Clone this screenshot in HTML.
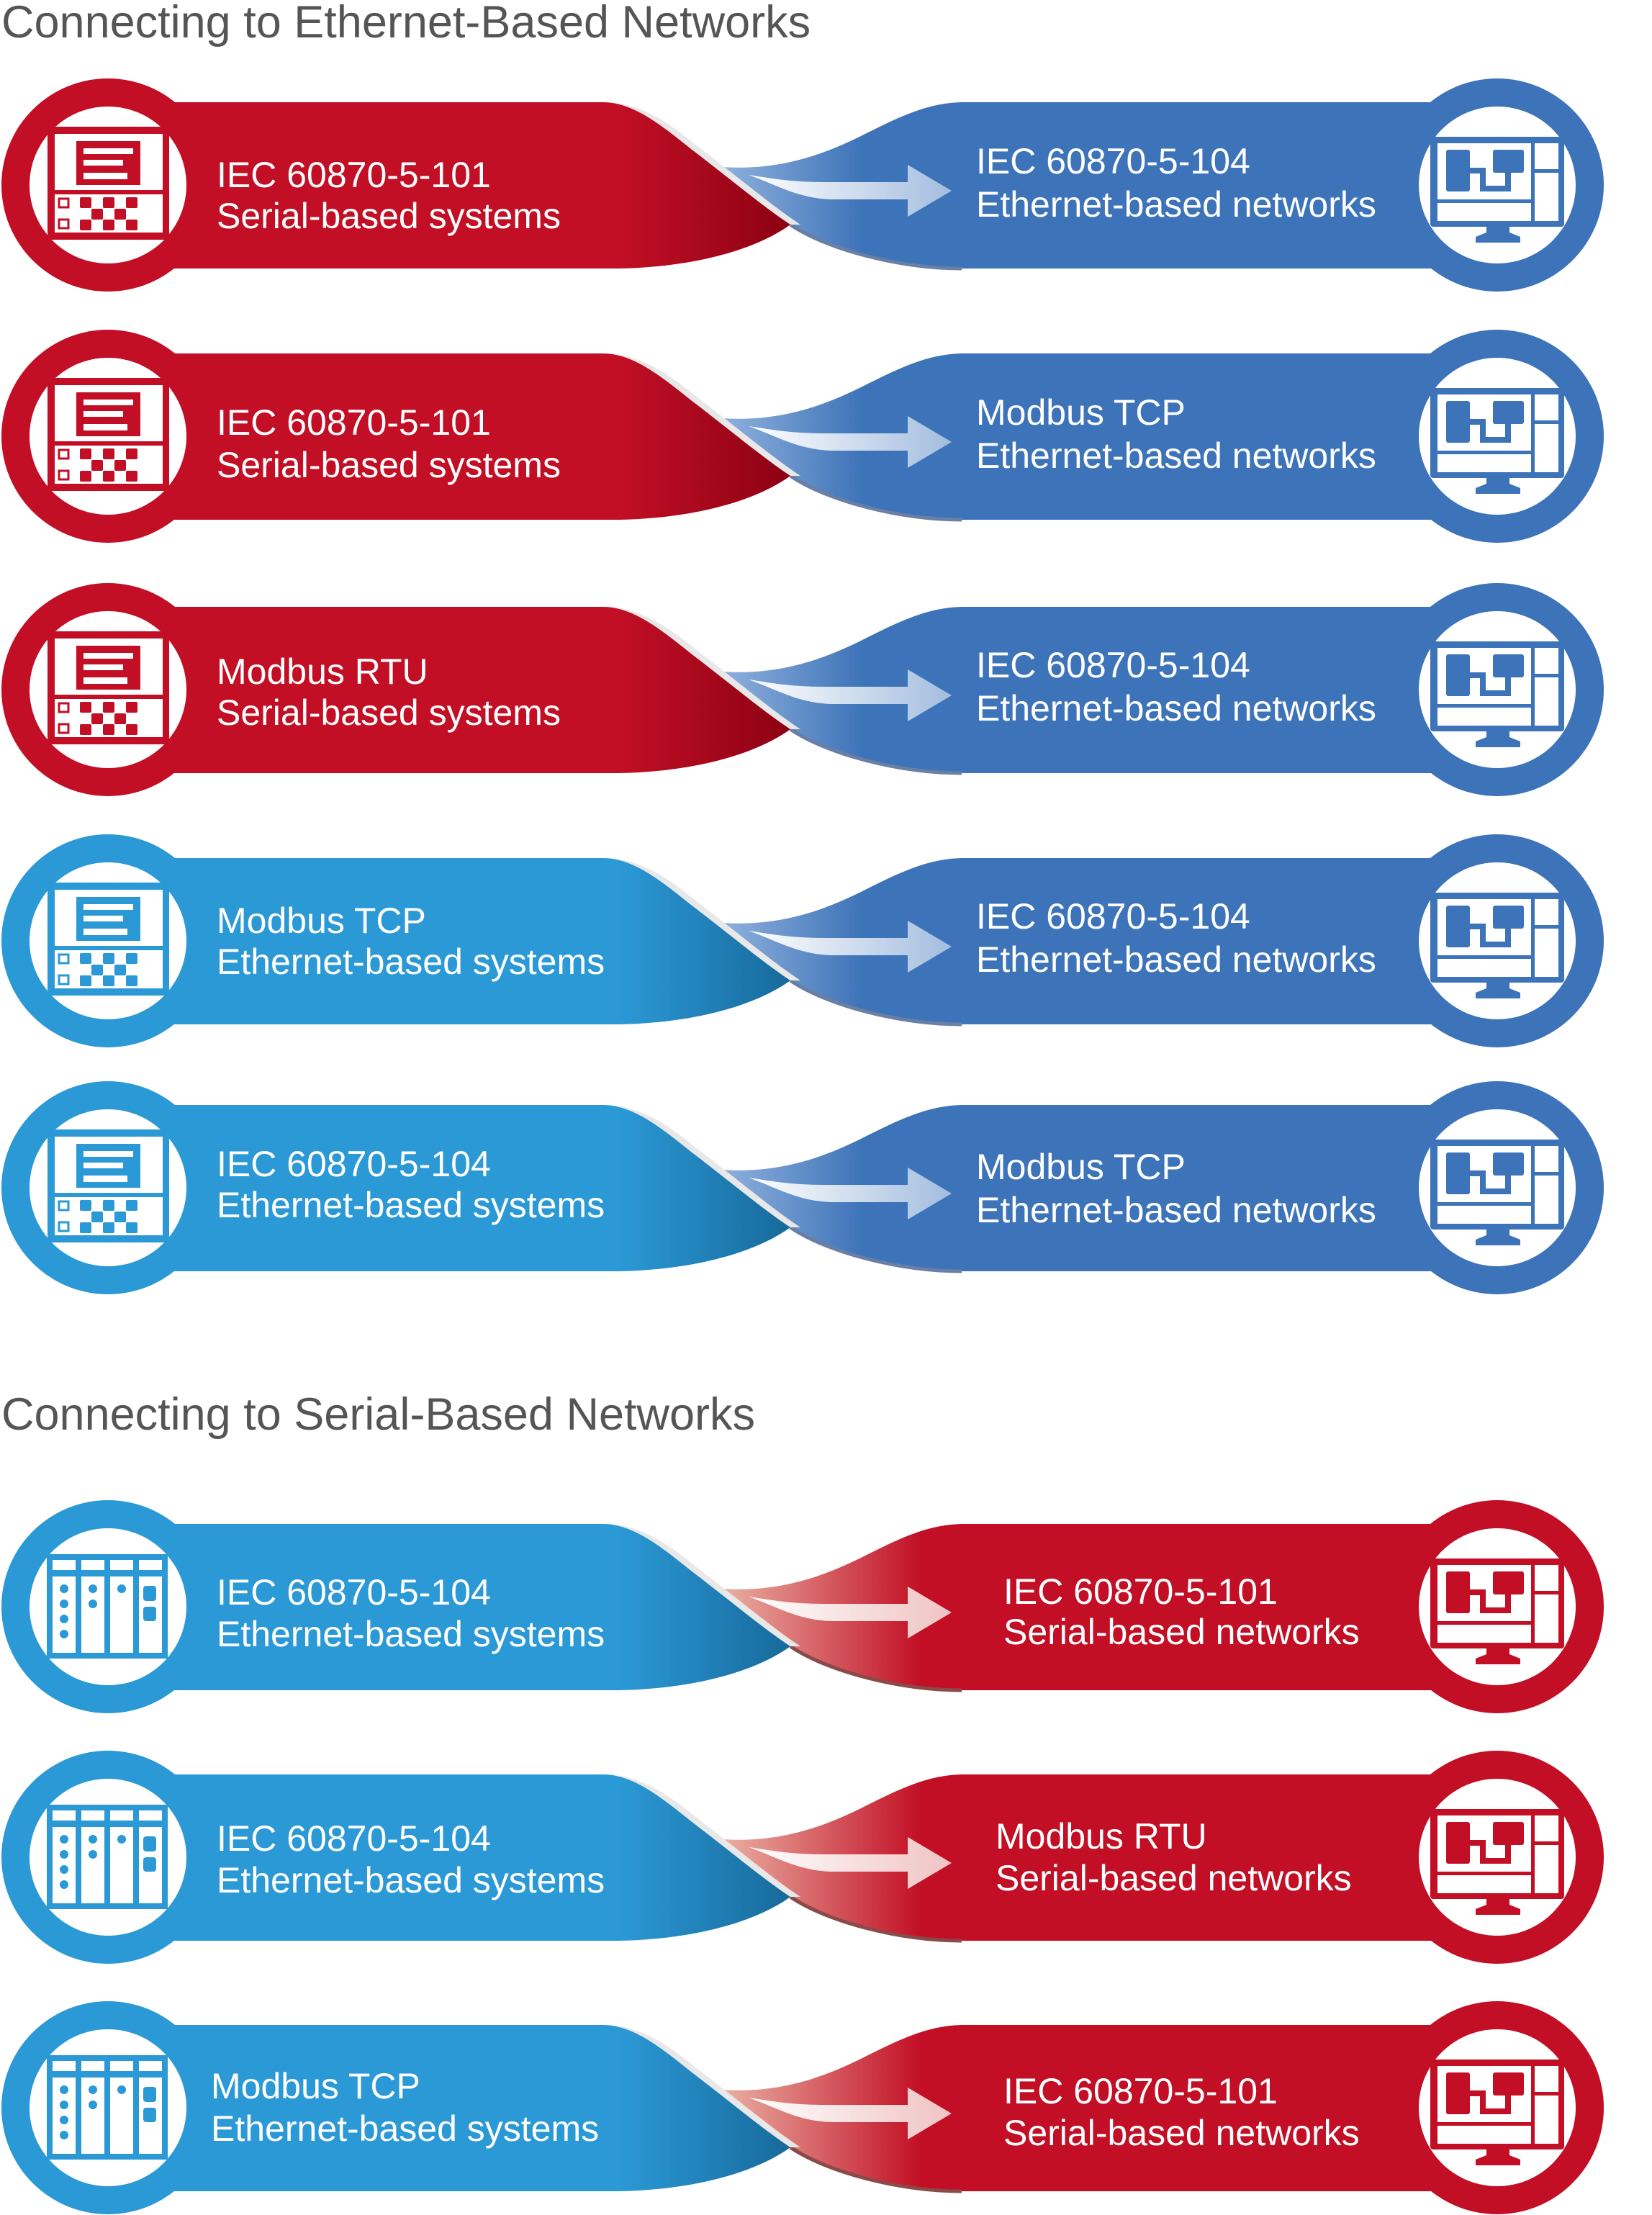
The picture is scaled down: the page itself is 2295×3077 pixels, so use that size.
<!DOCTYPE html>
<html><head><meta charset="utf-8"><style>
html,body{margin:0;padding:0;background:#fff;}
svg{display:block;}
text{font-family:"Liberation Sans",Arial,sans-serif;}
.t{fill:#fff;font-size:50px;}
.h{fill:#555;font-size:63px;}
</style></head><body>
<svg width="2295" height="3077" viewBox="0 0 2295 3077" xmlns="http://www.w3.org/2000/svg">
<defs>
<linearGradient id="gRedL" gradientUnits="userSpaceOnUse" x1="860" y1="0" x2="1100" y2="0"><stop offset="0" stop-color="#c20f25"/><stop offset="1" stop-color="#8c0013"/></linearGradient>
<linearGradient id="gLbL" gradientUnits="userSpaceOnUse" x1="860" y1="0" x2="1100" y2="0"><stop offset="0" stop-color="#2b99d6"/><stop offset="1" stop-color="#17699a"/></linearGradient>
<linearGradient id="gBlR" gradientUnits="userSpaceOnUse" x1="1003" y1="0" x2="1200" y2="0"><stop offset="0" stop-color="#8fb0dd"/><stop offset="1" stop-color="#3d73b8"/></linearGradient>
<linearGradient id="gRdR" gradientUnits="userSpaceOnUse" x1="1003" y1="0" x2="1280" y2="0"><stop offset="0" stop-color="#eab0a3"/><stop offset="1" stop-color="#c20f25"/></linearGradient>
<linearGradient id="gArB" gradientUnits="userSpaceOnUse" x1="1040" y1="0" x2="1322" y2="0"><stop offset="0" stop-color="#ffffff"/><stop offset="1" stop-color="#a3bddf"/></linearGradient>
<linearGradient id="gArR" gradientUnits="userSpaceOnUse" x1="1040" y1="0" x2="1322" y2="0"><stop offset="0" stop-color="#ffffff"/><stop offset="1" stop-color="#f0c3c3"/></linearGradient>
<path id="pL" d="M150,-115 L838,-115 C880,-115 920,-82 960,-50 C1010,-12 1060,30 1098,55 C1050,90 960,116 850,116 L150,116 Z"/>
<path id="pS" d="M838,-115 C894,-115 934,-82 974,-50 C1024,-12 1074,30 1112,55 L1098,55 C1060,30 1010,-12 960,-50 C920,-82 880,-115 838,-115 Z" fill="#e8e8e8"/>
<path id="pR" d="M1003,-25 C1080,-20 1140,-40 1200,-70 C1250,-95 1290,-115 1340,-115 L2080,-115 L2080,116 L1336,116 C1250,116 1150,90 1098,55 C1060,30 1030,0 1003,-25 Z"/>
<path id="pE" d="M1098,55 C1150,90 1250,116 1336,116" fill="none" stroke-width="5"/>
<path id="pA" d="M1040,-14 C1080,-8 1100,-4 1150,-4 L1261,-4 L1261,-28 L1322,8 L1261,44 L1261,20 L1160,20 C1110,20 1080,0 1040,-14 Z"/>
<g id="iPanel">
<rect x="66" y="-81" width="169" height="157"/>
<rect x="76" y="-71" width="150" height="78" fill="#fff"/>
<rect x="106" y="-61" width="89" height="61"/>
<rect x="116" y="-51" width="69" height="8" fill="#fff"/>
<rect x="116" y="-35" width="55" height="8" fill="#fff"/>
<rect x="116" y="-17" width="61" height="9" fill="#fff"/>
<rect x="76" y="13" width="150" height="53" fill="#fff"/>
<rect x="111" y="17" width="16" height="15" rx="2"/><rect x="143" y="17" width="16" height="15" rx="2"/><rect x="175" y="17" width="16" height="15" rx="2"/>
<rect x="127" y="33" width="16" height="15" rx="2"/><rect x="159" y="33" width="16" height="15" rx="2"/>
<rect x="111" y="48" width="16" height="15" rx="2"/><rect x="143" y="48" width="16" height="15" rx="2"/><rect x="175" y="48" width="16" height="15" rx="2"/>
<rect x="82" y="19" width="13" height="12" fill="#fff" stroke-width="3" stroke="currentColor"/>
<rect x="82" y="48" width="13" height="12" fill="#fff" stroke-width="3" stroke="currentColor"/>
</g>
<g id="iRack">
<rect x="65" y="-73" width="168" height="145"/>
<rect x="73" y="-65" width="32" height="14" fill="#fff"/><rect x="113" y="-65" width="32" height="14" fill="#fff"/><rect x="153" y="-65" width="32" height="14" fill="#fff"/><rect x="193" y="-65" width="32" height="14" fill="#fff"/>
<rect x="73" y="-42" width="32" height="106" fill="#fff"/><rect x="113" y="-42" width="32" height="106" fill="#fff"/><rect x="153" y="-42" width="32" height="106" fill="#fff"/><rect x="193" y="-42" width="32" height="106" fill="#fff"/>
<circle cx="89" cy="-25" r="6"/><circle cx="89" cy="-4" r="6"/><circle cx="89" cy="17" r="6"/><circle cx="89" cy="38" r="6"/>
<circle cx="129" cy="-25" r="6"/><circle cx="129" cy="-4" r="6"/><circle cx="169" cy="-25" r="6"/>
<rect x="199" y="-29" width="18" height="21" rx="4"/><rect x="199" y="0" width="18" height="20" rx="4"/>
</g>
<g id="iMon">
<rect x="1987" y="-67" width="186" height="125" rx="4"/>
<rect x="1997" y="-58" width="130" height="78" fill="#fff"/>
<rect x="1997" y="25" width="130" height="25" fill="#fff"/>
<rect x="2132" y="-58" width="33" height="36" fill="#fff"/>
<rect x="2132" y="-17" width="33" height="67" fill="#fff"/>
<rect x="2009" y="-49" width="33" height="58" rx="3"/>
<rect x="2074" y="-49" width="43" height="32" rx="3"/>
<polyline points="2040,-20 2060,-20 2060,5 2095,5 2095,-19" fill="none" stroke="currentColor" stroke-width="8"/>
<rect x="2065" y="58" width="32" height="12"/>
<polygon points="2050,72 2065,66 2097,66 2112,72 2112,80 2050,80"/>
</g>
</defs>

<text class="h" x="2" y="52">Connecting to Ethernet-Based Networks</text>
<text class="h" x="2" y="1986">Connecting to Serial-Based Networks</text>

<g transform="translate(0,257)">
<use href="#pR" fill="url(#gBlR)"/><use href="#pE" stroke="#6a7fa5"/>
<use href="#pS"/><use href="#pL" fill="url(#gRedL)"/>
<use href="#pA" fill="url(#gArB)"/>
<circle cx="150" cy="0" r="148" fill="#c20f25"/><circle cx="150" cy="0" r="109" fill="#fff"/>
<g fill="#c20f25" color="#c20f25"><use href="#iPanel"/></g>
<circle cx="2080" cy="0" r="148" fill="#3d73b8"/><circle cx="2080" cy="0" r="109" fill="#fff"/>
<g fill="#3d73b8" color="#3d73b8"><use href="#iMon"/></g>
<text class="t" x="301" y="3">IEC 60870-5-101</text><text class="t" x="301" y="60">Serial-based systems</text>
<text class="t" x="1356" y="-16">IEC 60870-5-104</text><text class="t" x="1356" y="44">Ethernet-based networks</text>
</g>

<g transform="translate(0,606)">
<use href="#pR" fill="url(#gBlR)"/><use href="#pE" stroke="#6a7fa5"/>
<use href="#pS"/><use href="#pL" fill="url(#gRedL)"/>
<use href="#pA" fill="url(#gArB)"/>
<circle cx="150" cy="0" r="148" fill="#c20f25"/><circle cx="150" cy="0" r="109" fill="#fff"/>
<g fill="#c20f25" color="#c20f25"><use href="#iPanel"/></g>
<circle cx="2080" cy="0" r="148" fill="#3d73b8"/><circle cx="2080" cy="0" r="109" fill="#fff"/>
<g fill="#3d73b8" color="#3d73b8"><use href="#iMon"/></g>
<text class="t" x="301" y="-2">IEC 60870-5-101</text><text class="t" x="301" y="57">Serial-based systems</text>
<text class="t" x="1356" y="-16">Modbus TCP</text><text class="t" x="1356" y="44">Ethernet-based networks</text>
</g>

<g transform="translate(0,958)">
<use href="#pR" fill="url(#gBlR)"/><use href="#pE" stroke="#6a7fa5"/>
<use href="#pS"/><use href="#pL" fill="url(#gRedL)"/>
<use href="#pA" fill="url(#gArB)"/>
<circle cx="150" cy="0" r="148" fill="#c20f25"/><circle cx="150" cy="0" r="109" fill="#fff"/>
<g fill="#c20f25" color="#c20f25"><use href="#iPanel"/></g>
<circle cx="2080" cy="0" r="148" fill="#3d73b8"/><circle cx="2080" cy="0" r="109" fill="#fff"/>
<g fill="#3d73b8" color="#3d73b8"><use href="#iMon"/></g>
<text class="t" x="301" y="-8">Modbus RTU</text><text class="t" x="301" y="49">Serial-based systems</text>
<text class="t" x="1356" y="-17">IEC 60870-5-104</text><text class="t" x="1356" y="43">Ethernet-based networks</text>
</g>

<g transform="translate(0,1307)">
<use href="#pR" fill="url(#gBlR)"/><use href="#pE" stroke="#6a7fa5"/>
<use href="#pS"/><use href="#pL" fill="url(#gLbL)"/>
<use href="#pA" fill="url(#gArB)"/>
<circle cx="150" cy="0" r="148" fill="#2b99d6"/><circle cx="150" cy="0" r="109" fill="#fff"/>
<g fill="#2b99d6" color="#2b99d6"><use href="#iPanel"/></g>
<circle cx="2080" cy="0" r="148" fill="#3d73b8"/><circle cx="2080" cy="0" r="109" fill="#fff"/>
<g fill="#3d73b8" color="#3d73b8"><use href="#iMon"/></g>
<text class="t" x="301" y="-11">Modbus TCP</text><text class="t" x="301" y="46">Ethernet-based systems</text>
<text class="t" x="1356" y="-17">IEC 60870-5-104</text><text class="t" x="1356" y="43">Ethernet-based networks</text>
</g>

<g transform="translate(0,1650)">
<use href="#pR" fill="url(#gBlR)"/><use href="#pE" stroke="#6a7fa5"/>
<use href="#pS"/><use href="#pL" fill="url(#gLbL)"/>
<use href="#pA" fill="url(#gArB)"/>
<circle cx="150" cy="0" r="148" fill="#2b99d6"/><circle cx="150" cy="0" r="109" fill="#fff"/>
<g fill="#2b99d6" color="#2b99d6"><use href="#iPanel"/></g>
<circle cx="2080" cy="0" r="148" fill="#3d73b8"/><circle cx="2080" cy="0" r="109" fill="#fff"/>
<g fill="#3d73b8" color="#3d73b8"><use href="#iMon"/></g>
<text class="t" x="301" y="-16">IEC 60870-5-104</text><text class="t" x="301" y="41">Ethernet-based systems</text>
<text class="t" x="1356" y="-12">Modbus TCP</text><text class="t" x="1356" y="48">Ethernet-based networks</text>
</g>

<g transform="translate(0,2232)">
<use href="#pR" fill="url(#gRdR)"/><use href="#pE" stroke="#8a4a4a"/>
<use href="#pS"/><use href="#pL" fill="url(#gLbL)"/>
<use href="#pA" fill="url(#gArR)"/>
<circle cx="150" cy="0" r="148" fill="#2b99d6"/><circle cx="150" cy="0" r="109" fill="#fff"/>
<g fill="#2b99d6" color="#2b99d6"><use href="#iRack"/></g>
<circle cx="2080" cy="0" r="148" fill="#c20f25"/><circle cx="2080" cy="0" r="109" fill="#fff"/>
<g fill="#c20f25" color="#c20f25"><use href="#iMon"/></g>
<text class="t" x="301" y="-3">IEC 60870-5-104</text><text class="t" x="301" y="55">Ethernet-based systems</text>
<text class="t" x="1394" y="-4">IEC 60870-5-101</text><text class="t" x="1394" y="52">Serial-based networks</text>
</g>

<g transform="translate(0,2580)">
<use href="#pR" fill="url(#gRdR)"/><use href="#pE" stroke="#8a4a4a"/>
<use href="#pS"/><use href="#pL" fill="url(#gLbL)"/>
<use href="#pA" fill="url(#gArR)"/>
<circle cx="150" cy="0" r="148" fill="#2b99d6"/><circle cx="150" cy="0" r="109" fill="#fff"/>
<g fill="#2b99d6" color="#2b99d6"><use href="#iRack"/></g>
<circle cx="2080" cy="0" r="148" fill="#c20f25"/><circle cx="2080" cy="0" r="109" fill="#fff"/>
<g fill="#c20f25" color="#c20f25"><use href="#iMon"/></g>
<text class="t" x="301" y="-9">IEC 60870-5-104</text><text class="t" x="301" y="49">Ethernet-based systems</text>
<text class="t" x="1383" y="-12">Modbus RTU</text><text class="t" x="1383" y="46">Serial-based networks</text>
</g>

<g transform="translate(0,2928)">
<use href="#pR" fill="url(#gRdR)"/><use href="#pE" stroke="#8a4a4a"/>
<use href="#pS"/><use href="#pL" fill="url(#gLbL)"/>
<use href="#pA" fill="url(#gArR)"/>
<circle cx="150" cy="0" r="148" fill="#2b99d6"/><circle cx="150" cy="0" r="109" fill="#fff"/>
<g fill="#2b99d6" color="#2b99d6"><use href="#iRack"/></g>
<circle cx="2080" cy="0" r="148" fill="#c20f25"/><circle cx="2080" cy="0" r="109" fill="#fff"/>
<g fill="#c20f25" color="#c20f25"><use href="#iMon"/></g>
<text class="t" x="293" y="-13">Modbus TCP</text><text class="t" x="293" y="46">Ethernet-based systems</text>
<text class="t" x="1394" y="-6">IEC 60870-5-101</text><text class="t" x="1394" y="52">Serial-based networks</text>
</g>
</svg>
</body></html>
